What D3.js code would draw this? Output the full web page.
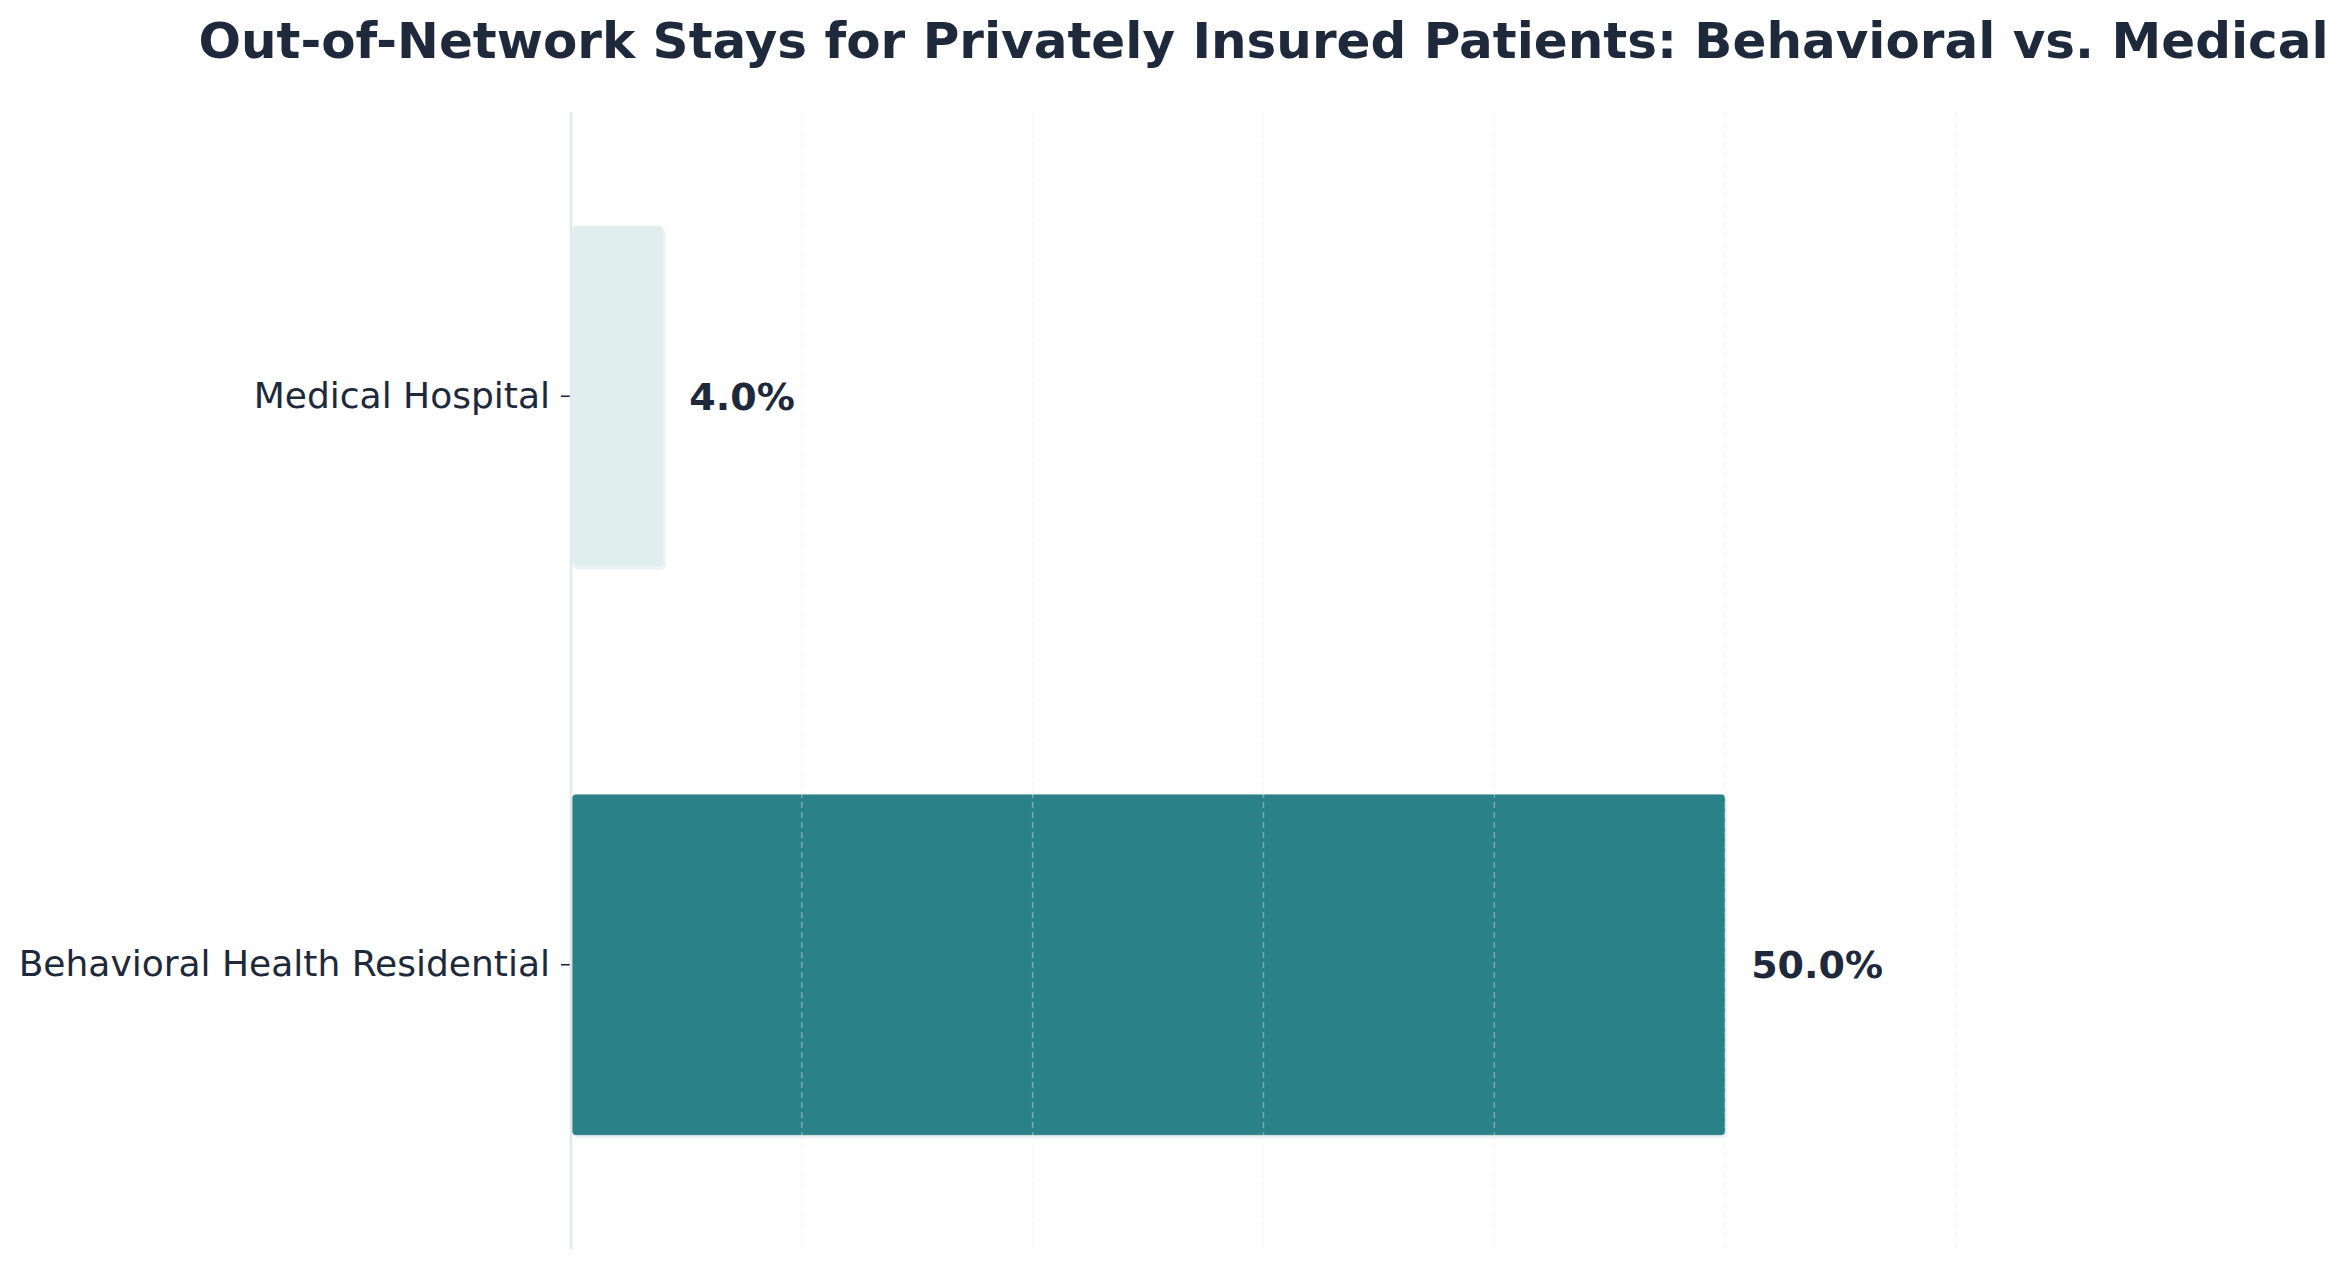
<!DOCTYPE html>
<html>
<head>
<meta charset="utf-8">
<script src="https://cdn.jsdelivr.net/npm/d3@7"></script>
<style>
  html, body { margin: 0; padding: 0; background: #ffffff; }
  svg { display: block; }
  text { font-family: "DejaVu Sans", sans-serif; }
</style>
</head>
<body>
<svg id="chart" width="2350" height="1268"></svg>
<script>
const titleText = "Out-of-Network Stays for Privately Insured Patients: Behavioral vs. Medical";
const categories = ["Medical Hospital", "Behavioral Health Residential"];
const values = [4.0, 50.0];
const barColors = ["#e0eeee", "#2a8187"];
const gridTicks = [10, 20, 30, 40, 50, 60];
const xDomain = [0, 60];

const W = 2350, H = 1268;
const margin = { left: 571, right: W - 1956, top: 112, bottom: H - 1249 };

const svg = d3.select("#chart");

const x = d3.scaleLinear().domain(xDomain).range([margin.left, W - margin.right]);
const y = d3.scaleBand().domain(categories).range([margin.top, H - margin.bottom])
  .paddingInner(0.4).paddingOuter(0.2);

const textColor = "#1e293b";

// shadows
svg.append("g").selectAll("rect")
  .data(categories)
  .join("rect")
  .attr("x", x(0) + 2)
  .attr("y", d => y(d) + 3)
  .attr("width", (d, i) => x(values[i]) - x(0))
  .attr("height", y.bandwidth())
  .attr("rx", 5)
  .attr("fill", "#e8ecf1")
  .attr("opacity", 0.8);

// bars
svg.append("g").selectAll("rect")
  .data(categories)
  .join("rect")
  .attr("x", x(0) + 1)
  .attr("y", d => y(d))
  .attr("width", (d, i) => x(values[i]) - x(0) - 1)
  .attr("height", y.bandwidth())
  .attr("rx", 4)
  .attr("fill", (d, i) => barColors[i])
  .attr("stroke", "#ffffff")
  .attr("stroke-opacity", 0.35)
  .attr("stroke-width", 1);

// gridlines (drawn above bars)
svg.append("g").selectAll("line")
  .data(gridTicks)
  .join("line")
  .attr("x1", d => x(d)).attr("x2", d => x(d))
  .attr("y1", margin.top).attr("y2", H - margin.bottom)
  .attr("stroke", "#e6ebf1")
  .attr("stroke-opacity", 0.4)
  .attr("stroke-width", 1.5)
  .attr("stroke-dasharray", "6,4");

// y axis
const yAxis = d3.axisLeft(y).tickSize(10).tickPadding(11);
const gy = svg.append("g")
  .attr("transform", `translate(${x(0)},0)`)
  .call(yAxis);
gy.select(".domain").remove();
gy.selectAll(".tick line").attr("stroke", textColor).attr("stroke-width", 1.6).attr("x2", -10);
gy.selectAll(".tick text")
  .attr("fill", textColor)
  .style("font-size", "36px")
  .style("font-family", "'DejaVu Sans', sans-serif");

// left axis line
svg.append("line")
  .attr("x1", x(0)).attr("x2", x(0))
  .attr("y1", margin.top).attr("y2", H - margin.bottom)
  .attr("stroke", "#e2e8f0")
  .attr("stroke-width", 2.5);

// value labels
svg.append("g").selectAll("text")
  .data(categories)
  .join("text")
  .attr("x", (d, i) => x(values[i]) + 26)
  .attr("y", d => y(d) + y.bandwidth() / 2)
  .attr("dy", "0.36em")
  .attr("fill", textColor)
  .style("font-size", "38px")
  .style("font-weight", "bold")
  .text((d, i) => values[i].toFixed(1) + "%");

// title
svg.append("text")
  .attr("x", (x.range()[0] + x.range()[1]) / 2)
  .attr("y", 58)
  .attr("text-anchor", "middle")
  .attr("fill", textColor)
  .style("font-size", "50px")
  .style("font-weight", "bold")
  .text(titleText);
</script>
</body>
</html>
